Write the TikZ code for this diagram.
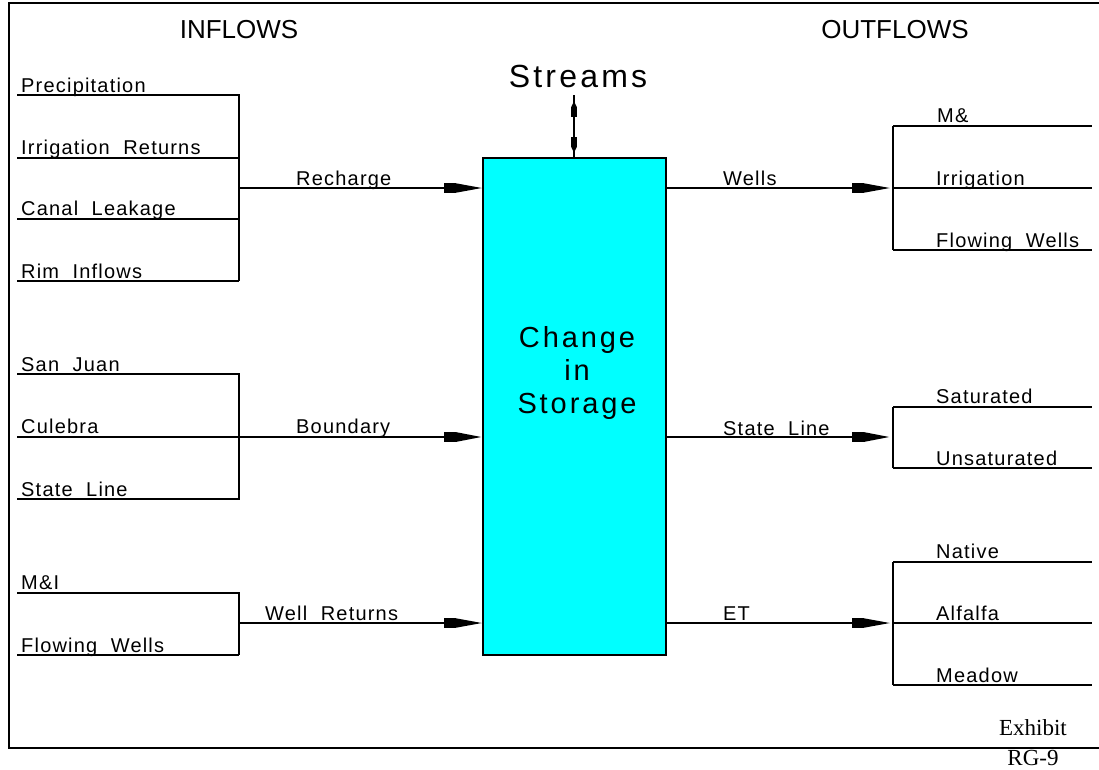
\documentclass[tikz,border=0pt]{standalone}
\usepackage{fontspec}
\usetikzlibrary{arrows.meta,calc}
\newfontfamily\cadfont[LetterSpace=6,WordSpace=2]{Liberation Sans}
\newfontfamily\cadtitle{Liberation Sans}
\newfontfamily\cadbig[LetterSpace=10]{Liberation Sans}
\newfontfamily\exfont{Liberation Serif}
\definecolor{boxcyan}{HTML}{00FFFF}
\tikzset{
  thin line/.style={line width=1.5pt},
  thick line/.style={line width=2.6pt},
  frame line/.style={line width=2.6pt},
  lab/.style={anchor=base west, inner sep=0pt, font=\cadfont\fontsize{20}{22}\selectfont},
  title/.style={anchor=base, inner sep=0pt, font=\cadtitle\fontsize{26}{28}\selectfont},
  flowarr/.style={-{Rectangle[length=12pt,width=10pt]Triangle[length=26pt,width=9pt]}},
  streamarr/.style={line width=1.5pt,{Triangle[length=6pt,width=5pt]Rectangle[length=10pt,width=6pt]}-{Rectangle[length=10pt,width=6pt]Triangle[length=6pt,width=5pt]}},
  storebox/.style={draw, line width=2pt, fill=boxcyan, minimum width=183pt, minimum height=497pt, inner sep=0pt},
}
\begin{document}
\begin{tikzpicture}[x=1pt,y=-1pt]
\useasboundingbox (0,0) rectangle (1099,769);
% frame
\coordinate (ftr) at (1099,3);
\coordinate (ftl) at (9,3);
\coordinate (fbl) at (9,748);
\coordinate (fbr) at (1099,748);
\draw[frame line] (ftr) -- (ftl) -- (fbl) -- (fbr);
% titles
\node[title] (inflows) at (239,38) {INFLOWS};
\node[title] (outflows) at (895,38) {OUTFLOWS};
% storage box
\node[storebox] (store) at (574.5,406.5) {};
\node[align=center, inner sep=0pt, font=\cadbig\fontsize{29}{33}\selectfont] (storelabel) at (577,373) {Change\\in\\Storage};
% streams
\node[anchor=base, inner sep=0pt, font=\cadbig\fontsize{32}{34}\selectfont] (streams) at (578,87) {Streams};
\coordinate (stop) at (574,95);
\draw[thin line] (stop) -- (stop |- store.north);
\draw[streamarr] ($(stop)+(0,6)$) -- ($(stop |- store.north)+(0,-4)$);

% ---------- left group 1: recharge
\coordinate (p1) at (17,95);  \coordinate (q1) at (239,95);
\coordinate (p2) at (17,158); \coordinate (q2) at (239,158);
\coordinate (p3) at (17,219); \coordinate (q3) at (239,219);
\coordinate (p4) at (17,281); \coordinate (q4) at (239,281);
\coordinate (jr) at (239,188);
\draw[thin line] (p1) -- (q1) -- (q4);
\draw[thin line] (p2) -- (q2);
\draw[thin line] (p3) -- (q3);
\draw[thick line] (p4) -- (q4);
\node[lab] (precip) at (21,92) {Precipitation};
\node[lab] (irrret) at (21,154) {Irrigation Returns};
\node[lab] (canal) at (21,215) {Canal Leakage};
\node[lab] (rim) at (21,278) {Rim Inflows};
\draw[thin line, flowarr] (jr) -- (jr -| store.west);
\node[lab] (recharge) at (296,185) {Recharge};

% ---------- left group 2: boundary
\coordinate (s1) at (17,374); \coordinate (t1) at (239,374);
\coordinate (s2) at (17,437); \coordinate (jb) at (239,437);
\coordinate (s3) at (17,499); \coordinate (t3) at (239,499);
\draw[thin line] (s1) -- (t1) -- (t3) -- (s3);
\draw[thick line] (s2) -- (jb);
\draw[thick line, flowarr] (jb) -- (jb -| store.west);
\node[lab] (sanjuan) at (21,371) {San Juan};
\node[lab] (culebra) at (21,433) {Culebra};
\node[lab] (stateline) at (21,496) {State Line};
\node[lab] (boundary) at (296,433) {Boundary};

% ---------- left group 3: well returns
\coordinate (u1) at (17,593); \coordinate (v1) at (239,593);
\coordinate (u2) at (17,655); \coordinate (v2) at (239,655);
\coordinate (jw) at (239,623);
\draw[thin line] (u1) -- (v1) -- (v2);
\draw[thick line] (u2) -- (v2);
\draw[thin line, flowarr] (jw) -- (jw -| store.west);
\node[lab] (mandi) at (21,589) {M\&I};
\node[lab] (flowl) at (21,652) {Flowing Wells};
\node[lab] (wellret) at (265,620) {Well Returns};

% ---------- right group 1: wells
\coordinate (a1) at (893,126); \coordinate (b1) at (1092,126);
\coordinate (kw) at (893,188); \coordinate (b2) at (1092,188);
\coordinate (a3) at (893,250); \coordinate (b3) at (1092,250);
\draw[thick line] (a1) -- (a3);
\draw[thin line] (a1) -- (b1);
\draw[thin line] (kw) -- (b2);
\draw[thick line] (a3) -- (b3);
\draw[thin line, flowarr, shorten >=3pt] (kw -| store.east) -- (kw);
\node[lab] (wells) at (723,185) {Wells};
\node[lab] (mand) at (937,122) {M\&};
\node[lab] (irr) at (936,185) {Irrigation};
\node[lab] (flowr) at (936,247) {Flowing Wells};

% ---------- right group 2: state line
\coordinate (c1) at (893,407); \coordinate (d1) at (1092,407);
\coordinate (ks) at (893,437);
\coordinate (c2) at (893,468); \coordinate (d2) at (1092,468);
\draw[thick line] (c1) -- (c2);
\draw[thick line] (c1) -- (d1);
\draw[thin line] (c2) -- (d2);
\draw[thick line, flowarr, shorten >=3pt] (ks -| store.east) -- (ks);
\node[lab] (stateout) at (723,435) {State Line};
\node[lab] (sat) at (936,403) {Saturated};
\node[lab] (unsat) at (936,465) {Unsaturated};

% ---------- right group 3: ET
\coordinate (e1) at (893,562); \coordinate (f1) at (1092,562);
\coordinate (ke) at (893,623); \coordinate (f2) at (1092,623);
\coordinate (e3) at (893,685); \coordinate (f3) at (1092,685);
\draw[thick line] (e1) -- (e3);
\draw[thin line] (e1) -- (f1);
\draw[thin line] (ke) -- (f2);
\draw[thick line] (e3) -- (f3);
\draw[thin line, flowarr, shorten >=3pt] (ke -| store.east) -- (ke);
\node[lab] (et) at (723,620) {ET};
\node[lab] (native) at (936,558) {Native};
\node[lab] (alfalfa) at (936,620) {Alfalfa};
\node[lab] (meadow) at (936,682) {Meadow};

% exhibit
\node[anchor=base, inner sep=0pt, font=\exfont\fontsize{23}{25}\selectfont] (exhibit) at (1033,735) {Exhibit};
\node[anchor=base, inner sep=0pt, font=\exfont\fontsize{23}{25}\selectfont] (rg) at (1033,765) {RG-9};
\end{tikzpicture}
\end{document}
